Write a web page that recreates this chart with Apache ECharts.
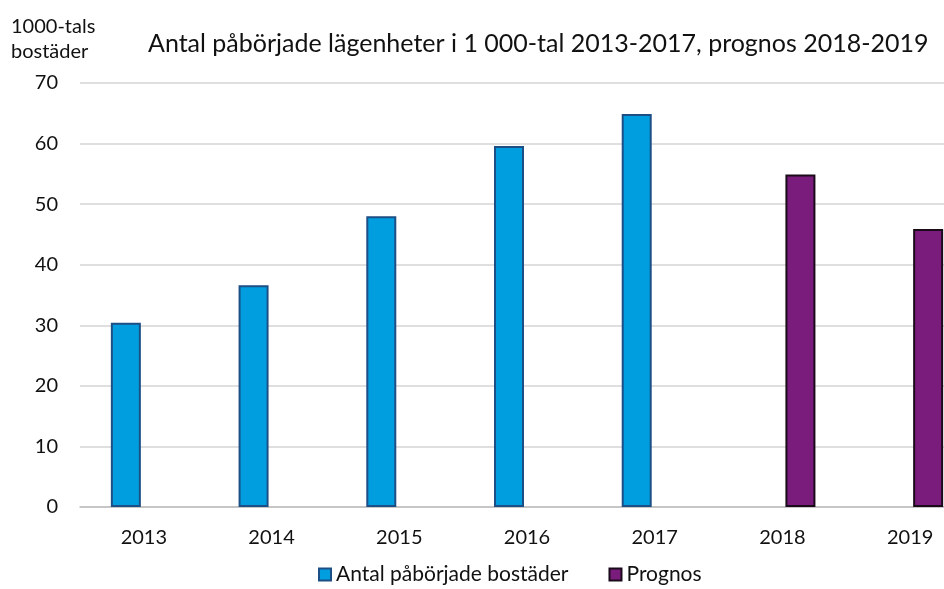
<!DOCTYPE html>
<html>
<head>
<meta charset="utf-8">
<script src="https://cdn.jsdelivr.net/npm/echarts@6/dist/echarts.min.js"></script>
<style>
  html, body { margin: 0; padding: 0; background: #fff; overflow: hidden; }
  #chart { width: 976px; height: 589px; }
</style>
</head>
<body>
<div id="chart"></div>
<script>
const years = ['2013', '2014', '2015', '2016', '2017', '2018', '2019'];
const startedHomes = [30.4, 36.6, 48.0, 59.6, 64.9, null, null];
const forecast = [null, null, null, null, null, 54.9, 45.9];
const yTicks = [0, 10, 20, 30, 40, 50, 60, 70];

const font = 'Lato';

// chart is a bit wider than the window: the right edge of the last category is cut off like in the original
const chart = echarts.init(document.getElementById('chart'));
const option = {
  backgroundColor: '#fff',
  animation: false,
  title: [
    {
      text: 'Antal påbörjade lägenheter i 1 000-tal 2013-2017, prognos 2018-2019',
      left: 143,
      top: 26,
      textStyle: { fontFamily: font, fontSize: 25, fontWeight: 'normal', color: '#111' }
    },
    {
      text: '1000-tals\nbostäder',
      left: 6,
      top: 9,
      textStyle: { fontFamily: font, fontSize: 20, fontWeight: 'normal', color: '#111', lineHeight: 25 }
    }
  ],
  legend: {
    top: 559,
    left: 313,
    icon: 'rect',
    itemWidth: 12,
    itemHeight: 12,
    itemGap: 40,
    textStyle: { fontFamily: font, fontSize: 21, color: '#111' },
    data: ['Antal påbörjade bostäder', 'Prognos']
  },
  grid: { left: 80, right: 2, top: 83, bottom: 82 },
  xAxis: {
    type: 'category',
    data: years,
    axisTick: { show: false },
    axisLine: { lineStyle: { color: '#bfbfbf', width: 1.5 } },
    axisLabel: { fontFamily: font, fontSize: 20, color: '#111', margin: 21 }
  },
  yAxis: {
    type: 'value',
    min: yTicks[0],
    max: yTicks[yTicks.length - 1],
    interval: 10,
    axisLabel: { fontFamily: font, fontSize: 20, color: '#111', margin: 22 },
    axisLine: { show: false },
    axisTick: { show: false },
    splitLine: { lineStyle: { color: '#d4d4d4', width: 1.5 } }
  },
  series: [
    {
      name: 'Antal påbörjade bostäder',
      type: 'bar',
      data: startedHomes,
      barWidth: 30,
      barGap: '20%',
      itemStyle: { color: '#009ede', borderColor: '#1c4f86', borderWidth: 2 }
    },
    {
      name: 'Prognos',
      type: 'bar',
      data: forecast,
      barWidth: 30,
      itemStyle: { color: '#7a1c7c', borderColor: '#1a0a1a', borderWidth: 2 }
    }
  ]
};
chart.setOption(option);
</script>
</body>
</html>
